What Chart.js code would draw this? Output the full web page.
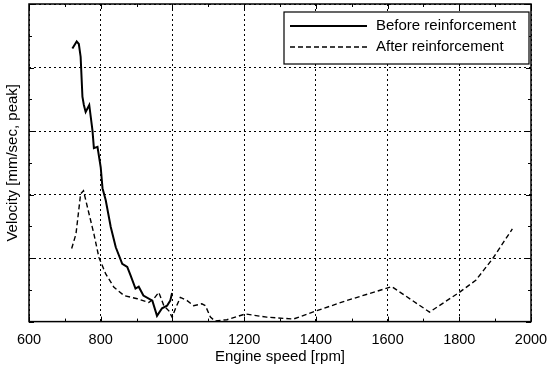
<html>
<head>
  <meta charset="utf-8">
  <title>Velocity vs engine speed</title>
  <script src="https://cdn.jsdelivr.net/npm/chart.js"></script>
  <style>
    body { margin: 0; background: white; }
    .chart-box { width: 553px; height: 368px; }
  </style>
</head>
<body>
  <div class="chart-box"><canvas id="speedChart"></canvas></div>

<script>
// values (y in grid units, axis has no numbers)
const beforeRpm = [721, 733, 739, 744, 749, 753, 758, 768, 777, 781, 791, 800, 805, 814, 828, 842, 860, 874, 883, 897, 906, 919, 944, 957, 971, 985, 994, 999];
const beforeVel = [4.30, 4.41, 4.37, 4.17, 3.54, 3.41, 3.30, 3.41, 3.01, 2.73, 2.75, 2.43, 2.10, 1.91, 1.49, 1.17, 0.91, 0.86, 0.73, 0.52, 0.55, 0.41, 0.33, 0.09, 0.21, 0.25, 0.33, 0.45];

const afterRpm = [719, 731, 744, 752, 763, 781, 795, 814, 837, 865, 902, 934, 948, 962, 976, 990, 999, 1008, 1022, 1041, 1059, 1082, 1092, 1106, 1119, 1152, 1203, 1263, 1337, 1402, 1485, 1612, 1717, 1800, 1846, 1893, 1948];
const afterVel = [1.15, 1.38, 2.01, 2.06, 1.80, 1.38, 1.01, 0.75, 0.54, 0.41, 0.36, 0.30, 0.36, 0.46, 0.25, 0.17, 0.07, 0.20, 0.38, 0.33, 0.25, 0.28, 0.25, 0.07, 0.01, 0.03, 0.12, 0.07, 0.04, 0.17, 0.33, 0.55, 0.15, 0.46, 0.65, 0.99, 1.46];

const xTicks = [600, 800, 1000, 1200, 1400, 1600, 1800, 2000];
const seriesNames = ["Before reinforcement", "After reinforcement"];

const FONT = "'Liberation Sans', Arial, sans-serif";

function toPoints(xs, ys) {
  return xs.map((x, i) => ({ x: x, y: ys[i] }));
}

// box around plot, inward ticks, and the framed legend in the upper right
const framePlugin = {
  id: "frame",
  afterDraw(chart) {
    const ctx = chart.ctx;
    const a = chart.chartArea;
    const xs = chart.scales.x;
    const ys = chart.scales.y;
    ctx.save();
    ctx.strokeStyle = "black";
    ctx.setLineDash([]);

    ctx.lineWidth = 1;
    ctx.beginPath();
    for (let v = 600; v <= 2000; v += 100) {
      const px = Math.round(xs.getPixelForValue(v)) + 0.5;
      const len = v % 200 === 0 ? 5 : 3;
      ctx.moveTo(px, a.bottom); ctx.lineTo(px, a.bottom - len);
      ctx.moveTo(px, a.top); ctx.lineTo(px, a.top + len);
    }
    for (let v = 0; v <= 5; v += 0.5) {
      const py = Math.round(ys.getPixelForValue(v)) + 0.5;
      const len = v % 1 === 0 ? 5 : 3;
      ctx.moveTo(a.left, py); ctx.lineTo(a.left + len, py);
      ctx.moveTo(a.right, py); ctx.lineTo(a.right - len, py);
    }
    ctx.stroke();

    ctx.lineWidth = 1.5;
    ctx.strokeRect(a.left, a.top, a.right - a.left, a.bottom - a.top);

    // legend
    const lx = a.left + 255, ly = a.top + 8, lw = 245, lh = 52;
    ctx.fillStyle = "white";
    ctx.fillRect(lx, ly, lw, lh);
    ctx.lineWidth = 1.2;
    ctx.strokeRect(lx, ly, lw, lh);
    chart.data.datasets.forEach((ds, i) => {
      const rowY = ly + 14 + i * 21;
      ctx.lineWidth = ds.borderWidth;
      ctx.setLineDash(ds.borderDash || []);
      ctx.beginPath();
      ctx.moveTo(lx + 6, rowY);
      ctx.lineTo(lx + 83, rowY);
      ctx.stroke();
      ctx.setLineDash([]);
      ctx.fillStyle = "black";
      ctx.font = "15px " + FONT;
      ctx.textBaseline = "middle";
      ctx.fillText(ds.label, lx + 92, rowY);
    });
    ctx.restore();
  }
};

new Chart(document.getElementById("speedChart"), {
  type: "line",
  data: {
    datasets: [{
      label: seriesNames[0],
      data: toPoints(beforeRpm, beforeVel),
      borderColor: "black",
      borderWidth: 2,
      pointRadius: 0,
      tension: 0
    }, {
      label: seriesNames[1],
      data: toPoints(afterRpm, afterVel),
      borderColor: "black",
      borderWidth: 1.4,
      borderDash: [5, 3],
      pointRadius: 0,
      tension: 0
    }]
  },
  options: {
    responsive: true,
    maintainAspectRatio: false,
    animation: false,
    layout: { padding: { top: 4, left: 2, right: 22, bottom: 2 } },
    plugins: {
      legend: { display: false },
      tooltip: { enabled: false }
    },
    scales: {
      x: {
        type: "linear",
        min: 600,
        max: 2000,
        afterBuildTicks: (scale) => { scale.ticks = xTicks.map(v => ({ value: v })); },
        ticks: {
          color: "black",
          padding: 2,
          font: { family: FONT, size: 14.5 },
          callback: (v) => String(v)
        },
        grid: { color: "black", lineWidth: 1, drawTicks: true, tickLength: 8, tickColor: "rgba(0,0,0,0)" },
        border: { display: false, dash: [2, 3] },
        title: {
          display: true,
          text: "Engine speed [rpm]",
          color: "black",
          font: { family: FONT, size: 15 },
          padding: { top: -3, bottom: 0 }
        }
      },
      y: {
        min: 0,
        max: 5,
        ticks: { display: false, stepSize: 1 },
        grid: { color: "black", lineWidth: 1, drawTicks: false },
        border: { display: false, dash: [2, 3] },
        title: {
          display: true,
          text: "Velocity [mm/sec, peak]",
          color: "black",
          font: { family: FONT, size: 15 },
          padding: { top: 2, bottom: 7 }
        }
      }
    }
  },
  plugins: [framePlugin]
});
</script>
</body>
</html>
